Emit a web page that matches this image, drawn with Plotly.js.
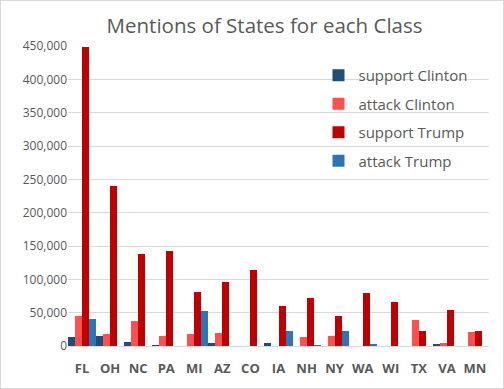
<!DOCTYPE html>
<html>
<head>
<meta charset="utf-8">
<script src="https://cdn.plot.ly/plotly-3.0.1.min.js"></script>
<style>
  html, body { margin: 0; padding: 0; background: #fff; }
  #chart { width: 504px; height: 389px; box-sizing: border-box; border: 1px solid #d9d9d9; }
</style>
</head>
<body>
<div id="chart"></div>
<script>
// valores
const states = ['FL', 'OH', 'NC', 'PA', 'MI', 'AZ', 'CO', 'IA', 'NH', 'NY', 'WA', 'WI', 'TX', 'VA', 'MN'];
const supportClinton = [14000, 15000, 6500, 1500, 0, 4500, 0, 4500, 0, 0, 0, 0, 0, 3000, 0];
const attackClinton = [44500, 18500, 38000, 15500, 18500, 20000, 0, 0, 14000, 15500, 0, 0, 38500, 4500, 21500];
const supportTrump = [449000, 240500, 138500, 143000, 81000, 96000, 114500, 60000, 72000, 44500, 79500, 66000, 23000, 53500, 23000];
const attackTrump = [40000, 0, 0, 0, 52000, 0, 0, 23000, 1500, 23000, 3000, 0, 0, 0, 0];

const TXT = '#595959', GRID = '#d9d9d9', FONT = 'Open Sans, sans-serif';

function bar(name, y, color) {
  return { type: 'bar', name, x: states, y, marker: { color }, legendgroup: name, hoverinfo: 'x+y+name' };
}

const data = [
  bar('support Clinton', supportClinton, '#1f4e79'),
  bar('attack Clinton', attackClinton, '#ff5050'),
  bar('support Trump', supportTrump, '#c00000'),
  bar('attack Trump', attackTrump, '#2e75b6')
];

const layout = {
  width: 502, height: 387,
  margin: { l: 67, r: 14, t: 45, b: 42 },
  paper_bgcolor: '#fff', plot_bgcolor: '#fff',
  font: { family: FONT, color: TXT },
  separators: '.,',
  title: {
    text: 'Mentions of States for each Class',
    font: { family: FONT, size: 20.5, color: TXT },
    x: 0.525, xref: 'container', xanchor: 'center',
    y: 0.935, yref: 'container', yanchor: 'middle'
  },
  barmode: 'group', bargap: 0, bargroupgap: 0,
  xaxis: {
    type: 'category',
    tickfont: { family: FONT, size: 13, color: TXT, weight: 'bold' },
    showline: true, linecolor: GRID, linewidth: 1,
    ticks: '', ticklabelstandoff: 10, fixedrange: true
  },
  yaxis: {
    range: [0, 450000], dtick: 50000, tickformat: ',d',
    tickfont: { family: FONT, size: 12, color: TXT },
    showgrid: true, gridcolor: GRID, zeroline: false, showline: false,
    ticks: '', fixedrange: true
  },
  legend: {
    x: 0.595, y: 0.957, xanchor: 'left', yanchor: 'top',
    bgcolor: 'rgba(0,0,0,0)', traceorder: 'grouped', tracegroupgap: 6,
    font: { family: FONT, size: 15, color: TXT }, itemwidth: 30
  },
  showlegend: true
};

Plotly.newPlot('chart', data, layout, { displayModeBar: false, staticPlot: true });
</script>
</body>
</html>
